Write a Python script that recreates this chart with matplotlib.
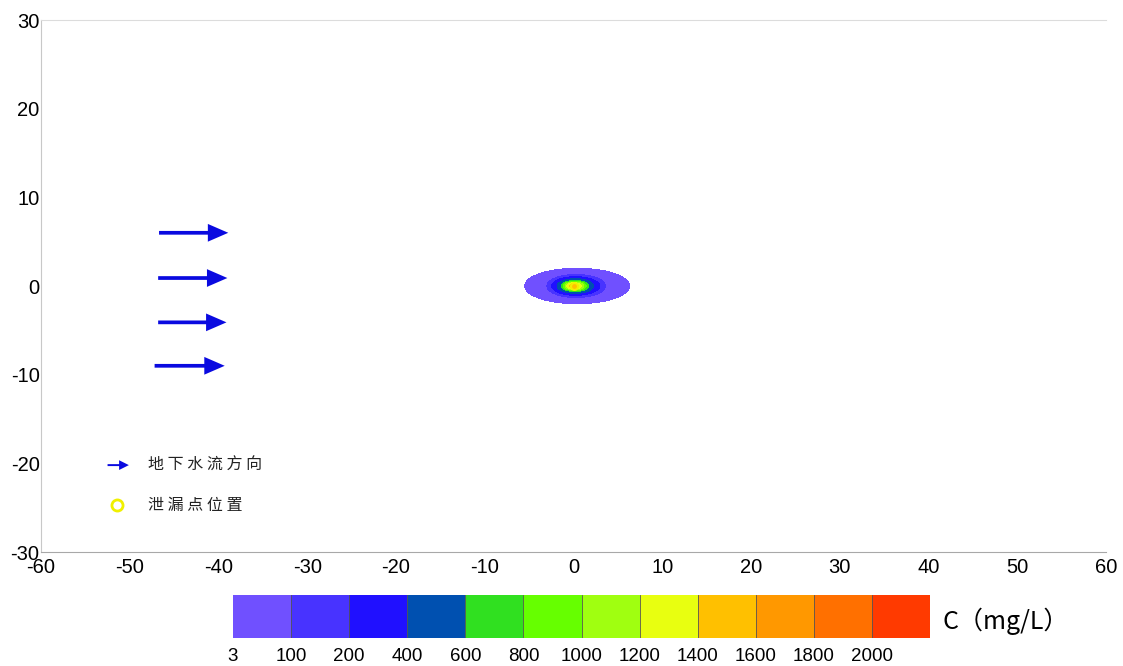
import numpy as np
import matplotlib.pyplot as plt
from matplotlib.colors import ListedColormap, BoundaryNorm

plt.rcParams['font.family'] = ['Liberation Sans', 'Noto Sans CJK SC', 'DejaVu Sans']
plt.rcParams['axes.unicode_minus'] = False

# concentration classes (mg/L) and their colours
levels = [3, 100, 200, 400, 600, 800, 1000, 1200, 1400, 1600, 1800, 2000, 2200]
band_colors = ['#7050ff', '#4833ff', '#2010ff', '#0050b0', '#30e020', '#66ff00',
               '#a0ff10', '#e8ff10', '#ffc000', '#ff9800', '#ff7000', '#ff3a00']

# plume outline: one ellipse per contour level
plume_level = [3, 100, 200, 400, 600, 800, 1000, 1200, 1400]
plume_a = [5.9, 3.3, 2.7, 2.05, 1.55, 1.3, 1.05, 0.8, 0.5]   # half length along x
plume_b = [2.0, 1.3, 1.05, 0.82, 0.62, 0.52, 0.44, 0.36, 0.26]  # half width along y
plume_cx = [0.4, 0.3, 0.25, 0.2, 0.15, 0.12, 0.1, 0.05, 0.05]

# groundwater flow arrows (start x, end x, y)
arrow_x0 = [-46.7, -46.8, -46.8, -47.2]
arrow_x1 = [-38.9, -39.0, -39.1, -39.3]
arrow_y = [6.0, 0.9, -4.1, -9.0]

leak_x, leak_y = 0.0, 0.0

xticks = list(range(-60, 61, 10))
yticks = list(range(-30, 31, 10))

fig = plt.figure(figsize=(11.23, 6.66), dpi=100)
ax = fig.add_axes([41/1123, 1-552/666, 1065/1123, 532/666])

# piecewise field: inside ellipse k -> middle of band k
gx = np.linspace(-8, 9, 1700)
gy = np.linspace(-3, 3, 600)
X, Y = np.meshgrid(gx, gy)
Z = np.zeros_like(X)
for k, lv in enumerate(plume_level):
    r = ((X - plume_cx[k]) / plume_a[k])**2 + (Y / plume_b[k])**2
    i = levels.index(lv)
    Z[r <= 1] = 0.5 * (levels[i] + levels[i+1])

cmap = ListedColormap(band_colors)
norm = BoundaryNorm(levels, cmap.N)
cs = ax.contourf(X, Y, Z, levels=levels, cmap=cmap, norm=norm)

for x0, x1, y in zip(arrow_x0, arrow_x1, arrow_y):
    ax.arrow(x0, y, x1 - x0, 0, width=0.42, head_width=2.0, head_length=2.3,
             length_includes_head=True, color='#0a0ae0', lw=0)

ax.plot([leak_x], [leak_y], 'o', ms=5, mfc='none', mec='#f0f000', mew=1.5)

# legend drawn by hand
ax.arrow(-52.5, -20.2, 2.4, 0, width=0.22, head_width=1.1, head_length=1.1,
         length_includes_head=True, color='#0a0ae0', lw=0)
ax.plot([-51.4], [-24.7], 'o', ms=8, mfc='none', mec='#f0f000', mew=2)
ax.text(-47.9, -20.2, ' '.join('地下水流方向'), fontsize=11.5, va='center',
        color='#222222', family=['Noto Sans CJK SC'])
ax.text(-47.9, -24.7, ' '.join('泄漏点位置'), fontsize=11.5, va='center',
        color='#222222', family=['Noto Sans CJK SC'])

ax.set_xlim(-60, 60)
ax.set_ylim(-30, 30)
ax.set_xticks(xticks)
ax.set_yticks(yticks)
ax.tick_params(length=0, labelsize=14.5)
ax.tick_params(axis='x', pad=4)
ax.tick_params(axis='y', pad=1)
ax.spines['right'].set_visible(False)
ax.spines['left'].set_color('#c8c8c8')
ax.spines['top'].set_color('#dcdcdc')
ax.spines['bottom'].set_color('#a8a8a8')

cax = fig.add_axes([233/1123, 1-638/666, 697/1123, 43/666])
cb = fig.colorbar(cs, cax=cax, orientation='horizontal', ticks=levels[:-1])
cb.outline.set_visible(False)
for v in levels[1:-1]:
    cax.axvline(v, color='#555555', lw=0.6)
cax.minorticks_off()
cax.tick_params(which='both', length=0, labelsize=13.5, pad=7)
cax.set_xticklabels([str(v) for v in levels[:-1]])
fig.text(942/1123, 1-621/666, 'C（mg/L）', fontsize=18, va='center',
         family=['Noto Sans CJK SC'])

fig.savefig('out.png', dpi=100)
